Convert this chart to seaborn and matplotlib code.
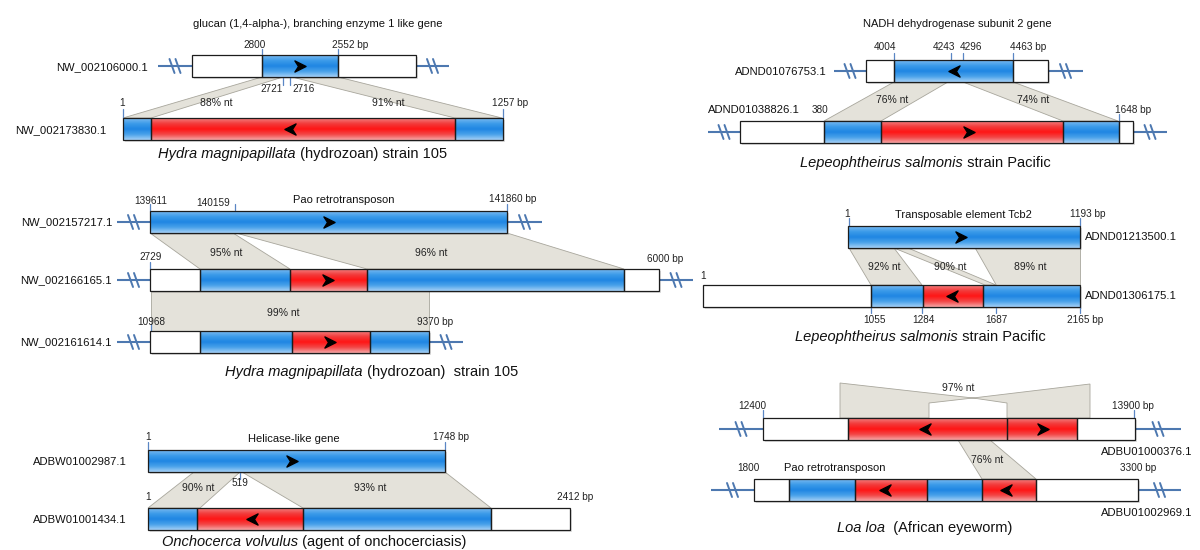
import numpy as np
import matplotlib
matplotlib.use("Agg")
import matplotlib.pyplot as plt
from matplotlib.patches import Polygon, Rectangle
from matplotlib.path import Path
from matplotlib.colors import LinearSegmentedColormap
import seaborn as sns

sns.set_theme(style="white")
plt.rcParams["font.family"] = ["Liberation Sans", "DejaVu Sans"]

# ---------------------------------------------------------------------------
# data: one entry per sequence track (layout units = pixels of the panel)
# ---------------------------------------------------------------------------
row_ids = ["NW_002106000.1", "NW_002173830.1",
           "ADND01076753.1", "ADND01038826.1",
           "NW_002157217.1", "NW_002166165.1", "NW_002161614.1",
           "ADND01213500.1", "ADND01306175.1",
           "ADBW01002987.1", "ADBW01001434.1",
           "ADBU01000376.1", "ADBU01002969.1"]
row_top = [55, 118, 60, 121, 211, 269, 331, 226, 285, 450, 508, 418, 479]
row_segs = [
    [(192, 262, "w"), (262, 338, "b"), (338, 416, "w")],
    [(123, 151, "b"), (151, 455, "r"), (455, 503, "b")],
    [(866, 894, "w"), (894, 1013, "b"), (1013, 1048, "w")],
    [(740, 824, "w"), (824, 881, "b"), (881, 1063, "r"), (1063, 1119, "b"), (1119, 1133, "w")],
    [(150, 507, "b")],
    [(150, 200, "w"), (200, 290, "b"), (290, 367, "r"), (367, 624, "b"), (624, 659, "w")],
    [(150, 200, "w"), (200, 292, "b"), (292, 370, "r"), (370, 429, "b")],
    [(848, 1080, "b")],
    [(703, 871, "w"), (871, 923, "b"), (923, 983, "r"), (983, 1080, "b")],
    [(148, 445, "b")],
    [(148, 197, "b"), (197, 303, "r"), (303, 491, "b"), (491, 570, "w")],
    [(763, 848, "w"), (848, 1007, "r"), (1007, 1077, "r"), (1077, 1135, "w")],
    [(754, 789, "w"), (789, 855, "b"), (855, 927, "r"), (927, 982, "b"), (982, 1036, "r"), (1036, 1138, "w")],
]
row_breaks = [
    [(158, 192), (416, 449)],
    [],
    [(834, 866), (1048, 1083)],
    [(708, 740), (1133, 1167)],
    [(117, 150), (507, 542)],
    [(117, 150), (659, 693)],
    [(117, 150), (429, 463)],
    [],
    [],
    [],
    [],
    [(719, 763), (1135, 1181)],
    [(711, 754), (1138, 1181)],
]
row_arrows = [[(300, 1)], [(290, -1)], [(954, -1)], [(969, 1)],
              [(329, 1)], [(328, 1)], [(330, 1)], [(961, 1)], [(952, -1)],
              [(292, 1)], [(252, -1)], [(925, -1), (1043, 1)],
              [(885, -1), (1006, -1)]]
id_xy = [(148, 67, "right"), (106, 130, "right"), (827, 72, "right"),
         (708, 110, "left"), (112, 222, "right"), (112, 280, "right"),
         (112, 342, "right"), (1085, 237, "left"), (1085, 296, "left"),
         (127, 462, "right"), (127, 520, "right"), (1192, 452, "right"),
         (1192, 513, "right")]

# alignments: (upper row, x0, x1, lower row, x0, x1, identity label, label x, label y)
aln = [
    (0, 262, 283, 1, 123, 151, "88% nt", 216, 103),
    (0, 292, 338, 1, 455, 502, "91% nt", 388, 103),
    (2, 894, 948, 3, 824, 881, "76% nt", 892, 100),
    (2, 963, 1013, 3, 1063, 1118, "74% nt", 1033, 100),
    (4, 150, 233, 5, 200, 290, "95% nt", 226, 253),
    (4, 236, 507, 5, 367, 624, "96% nt", 431, 253),
    (5, 151, 429, 6, 151, 429, "99% nt", 283, 313),
    (7, 849, 894, 8, 871, 922, "92% nt", 884, 267),
    (7, 894, 908, 8, 985, 996, "90% nt", 950, 267),
    (7, 975, 1080, 8, 996, 1080, "89% nt", 1030, 267),
    (9, 194, 240, 10, 148, 200, "90% nt", 198, 488),
    (9, 242, 445, 10, 303, 491, "93% nt", 370, 488),
    (11, 958, 990, 12, 982, 1036, "76% nt", 987, 460),
]
# inverted repeat drawn above ADBU01000376.1
inv_x = [840, 840, 973, 1090, 1090, 1007, 1007, 973, 929, 929]
inv_y = [418, 383, 398, 384, 418, 418, 403, 398, 403, 418]
inv_label = ("97% nt", 958, 388)

# coordinate labels: (text, x, y)
num_labels = [
    ("2800", 255, 45), ("2552 bp", 350, 45), ("2721", 272, 89), ("2716", 304, 89),
    ("1", 122, 103), ("1257 bp", 510, 103),
    ("4004", 885, 47), ("4243", 944, 47), ("4296", 971, 47), ("4463 bp", 1028, 47),
    ("380", 820, 110), ("1648 bp", 1133, 110),
    ("139611", 151, 201), ("140159", 213, 203), ("141860 bp", 513, 199),
    ("2729", 151, 257), ("6000 bp", 665, 259),
    ("10968", 151, 322), ("9370 bp", 435, 322),
    ("1", 847, 214), ("1193 bp", 1088, 214), ("1", 703, 276),
    ("1055", 875, 320), ("1284", 923, 320), ("1687", 996, 320), ("2165 bp", 1085, 320),
    ("1", 148, 437), ("1748 bp", 451, 437), ("1", 148, 497), ("519", 240, 483),
    ("2412 bp", 575, 497),
    ("12400", 752, 406), ("13900 bp", 1133, 406), ("1800", 748, 468), ("3300 bp", 1138, 468),
]
# small coordinate ticks: (x, y0, y1)
ticks = [(262, 49, 55), (338, 49, 55), (283, 77, 85), (290, 77, 85), (123, 109, 118), (503, 109, 118),
         (894, 53, 60), (951, 53, 60), (963, 53, 60), (1013, 53, 60), (1119, 114, 121),
         (150, 204, 211), (235, 204, 211), (507, 204, 211), (150, 262, 269), (151, 324, 331),
         (849, 218, 226), (1080, 218, 226), (871, 307, 313), (922, 307, 313), (996, 307, 313), (1080, 307, 313),
         (148, 442, 450), (445, 442, 450), (240, 472, 479),
         (763, 410, 418), (1134, 410, 418)]

gene_titles = [("glucan (1,4-alpha-), branching enzyme 1 like gene", 318, 24),
               ("NADH dehydrogenase subunit 2 gene", 957, 24),
               ("Pao retrotransposon", 344, 200),
               ("Transposable element Tcb2", 963, 215),
               ("Helicase-like gene", 294, 439),
               ("Pao retrotransposon", 835, 468)]
species = [("Hydra magnipapillata", " (hydrozoan) strain 105", 303, 154),
           ("Lepeophtheirus salmonis", " strain Pacific", 926, 163),
           ("Hydra magnipapillata", " (hydrozoan)  strain 105", 372, 372),
           ("Lepeophtheirus salmonis", " strain Pacific", 921, 337),
           ("Onchocerca volvulus", " (agent of onchocerciasis)", 314, 542),
           ("Loa loa", "  (African eyeworm)", 925, 528)]

# ---------------------------------------------------------------------------
BAR_H = 22
GRAY = "#e4e2da"
GRAY_EDGE = "#a8a69c"
BREAK_C = "#4d78b0"
SP_SIZE = 10.5
cmaps = {
    "b": LinearSegmentedColormap.from_list("b", ["#7ab9f0", "#3b9be9", "#1f86e3", "#4aa2ea", "#a4d0f6"]),
    "r": LinearSegmentedColormap.from_list("r", ["#f27e7e", "#f23b3b", "#ff1515", "#f24848", "#f7a6a6"]),
}
grad = np.linspace(0, 1, 64).reshape(-1, 1)

fig = plt.figure(figsize=(12, 5.5), dpi=100)
ax = fig.add_axes([0, 0, 1, 1])
ax.set_xlim(0, 1200)
ax.set_ylim(550, 0)
ax.set_autoscale_on(False)
ax.axis("off")

arrow_r = Path([(-1, -1), (1, 0), (-1, 1), (-0.35, 0), (-1, -1)],
               [Path.MOVETO, Path.LINETO, Path.LINETO, Path.LINETO, Path.CLOSEPOLY])
arrow_l = Path([(1, -1), (-1, 0), (1, 1), (0.35, 0), (1, -1)],
               [Path.MOVETO, Path.LINETO, Path.LINETO, Path.LINETO, Path.CLOSEPOLY])

# alignment bands go behind the tracks
for r0, a0, a1, r1, b0, b1, lab, lx, ly in aln:
    ytop = row_top[r0] + BAR_H
    ybot = row_top[r1]
    ax.add_patch(Polygon([(a0, ytop), (a1, ytop), (b1, ybot), (b0, ybot)], closed=True,
                         facecolor=GRAY, edgecolor=GRAY_EDGE, lw=0.6, zorder=1))
    ax.text(lx, ly, lab, ha="center", va="center", fontsize=7.5, color="#222", zorder=6)

ax.add_patch(Polygon(list(zip(inv_x, inv_y)), closed=True, facecolor=GRAY,
                     edgecolor=GRAY_EDGE, lw=0.6, zorder=1))
ax.text(inv_label[1], inv_label[2], inv_label[0], ha="center", va="center", fontsize=7.5, color="#222")

for i, name in enumerate(row_ids):
    y0 = row_top[i]
    y1 = y0 + BAR_H
    ym = y0 + BAR_H / 2
    segs = row_segs[i]
    xs, xe = segs[0][0], segs[-1][1]
    for bx0, bx1 in row_breaks[i]:
        ax.plot([bx0, bx1], [ym, ym], color=BREAK_C, lw=1.5, zorder=2, solid_capstyle="butt")
        xm = (bx0 + bx1) / 2
        for dx in (-3, 3):
            ax.plot([xm + dx - 2.5, xm + dx + 2.5], [ym - 7, ym + 7], color=BREAK_C, lw=1.4, zorder=2)
    ax.add_patch(Rectangle((xs + 2, y0 + 2), xe - xs, BAR_H, facecolor="#000", alpha=0.13,
                           edgecolor="none", zorder=2))
    for sx0, sx1, kind in segs:
        if kind == "w":
            ax.add_patch(Rectangle((sx0, y0), sx1 - sx0, BAR_H, facecolor="white",
                                   edgecolor="none", zorder=3))
        else:
            ax.imshow(grad, cmap=cmaps[kind], extent=(sx0, sx1, y1, y0), origin="upper",
                      aspect="auto", interpolation="bilinear", zorder=3)
        ax.add_patch(Rectangle((sx0, y0), sx1 - sx0, BAR_H, facecolor="none",
                               edgecolor="#1c1c1c", lw=0.9, zorder=4))
    for axp, d in row_arrows[i]:
        ax.plot([axp], [ym], marker=arrow_r if d > 0 else arrow_l, markersize=8,
                color="black", zorder=5, linestyle="none")
    tx, ty, ha = id_xy[i]
    ax.text(tx, ty, name, ha=ha, va="center", fontsize=8.1, color="#111")

for x, y0, y1 in ticks:
    ax.plot([x, x], [y0, y1], color="#5a86c4", lw=0.9, zorder=2)

for txt, x, y in num_labels:
    ax.text(x, y, txt, ha="center", va="center", fontsize=7.2, color="#222")

for txt, x, y in gene_titles:
    ax.text(x, y, txt, ha="center", va="center", fontsize=8, color="#111")

fig.canvas.draw()
rend = fig.canvas.get_renderer()
px = 1200 / fig.bbox.width
for it, rest, x, y in species:
    t = ax.text(0, 0, it + rest, fontsize=SP_SIZE)
    w = t.get_window_extent(renderer=rend).width * px
    t.remove()
    left = x - w / 2
    t1 = ax.text(left, y, it, fontsize=SP_SIZE, style="italic", ha="left", va="center", color="#111")
    w1 = t1.get_window_extent(renderer=rend).width * px
    ax.text(left + w1, y, rest, fontsize=SP_SIZE, ha="left", va="center", color="#111")

fig.savefig("out.png", dpi=100)
